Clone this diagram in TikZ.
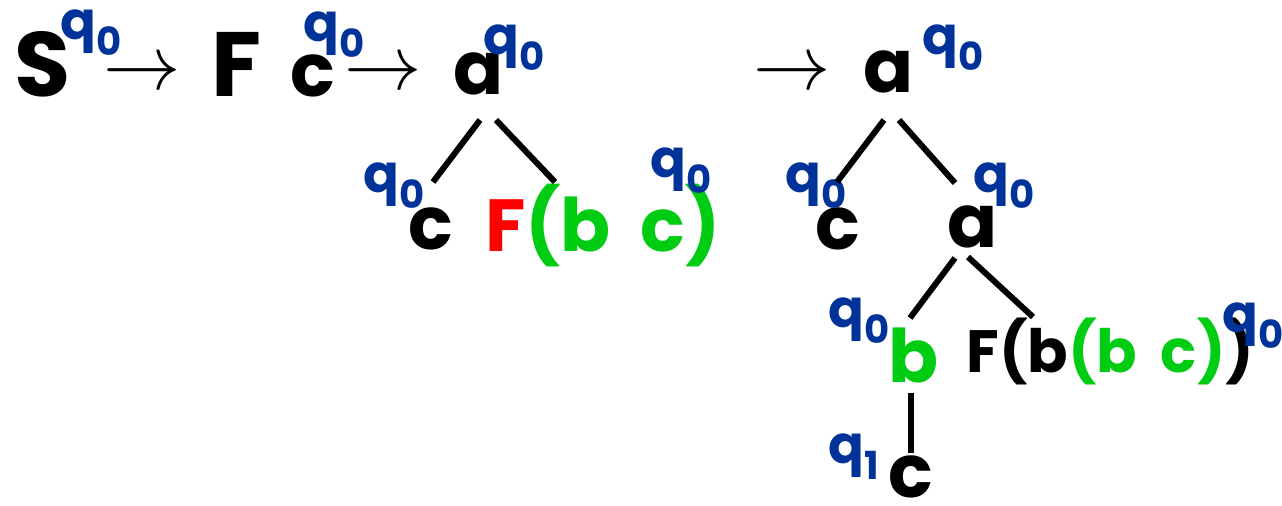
\RequirePackage{fix-cm}
\documentclass[tikz,border=0pt]{standalone}
\usepackage{fontspec}
\setmainfont{Poppins}
\usetikzlibrary{calc}
\definecolor{qblue}{RGB}{0,51,153}
\definecolor{lgreen}{RGB}{0,204,20}
\newcommand{\qlab}[1]{q\raisebox{-9pt}{\fontsize{22}{24}\selectfont #1}}

\begin{document}
\begin{tikzpicture}[x=0.02cm,y=-0.02cm,
    sym/.style={inner sep=0pt,anchor=base west,font=\fontsize{42}{48}\selectfont\bfseries},
    big/.style={sym,font=\fontsize{52}{56}\selectfont\bfseries},
    small/.style={sym,font=\fontsize{34}{40}\selectfont\bfseries},
    lab/.style={inner sep=0pt,anchor=base west,text=qblue,font=\fontsize{30}{34}\selectfont\bfseries},
    arr/.style={inner sep=0pt,font=\fontsize{44}{48}\selectfont},
    edge/.style={line width=3.4pt}]
    \useasboundingbox (0,0) rectangle (1282,506);
    % S => F c => a
    \node[big] (S) at (14,97) {S};
    \node[lab] (qS) at (60,40) {\qlab0};
    \node[arr] (arr1) at (142,75) {$\rightarrow$};
    \node[big] (F0) at (211,97) {F};
    \node[sym] (c0) at (290,97) {c};
    \node[lab] (qc0) at (303,42) {\qlab0};
    \node[arr] (arr2) at (383,75) {$\rightarrow$};
    % first tree
    \node[sym] (a1) at (453,95) {a};
    \node[lab] (qa1) at (483,55) {\qlab0};
    \node[sym] (c1) at (408,250) {c};
    \node[lab] (qc1) at (363,193) {\qlab0};
    \node[sym] (F1) at (485,252) {\textcolor{red}{F}\textcolor{lgreen}{(b\hspace{0.4em}c)}};
    \node[lab] (qF1) at (650,178) {\qlab0};
    \draw[edge] ($(a1.base west)+(27,25)$) -- ($(c1.base west)+(25,-68)$);
    \draw[edge] ($(a1.base west)+(43,25)$) -- ($(F1.base west)+(70,-70)$);
    % second tree
    \node[arr] (arr3) at (792,75) {$\rightarrow$};
    \node[sym] (a2) at (863,93) {a};
    \node[lab] (qa2) at (922,55) {\qlab0};
    \node[sym] (c2) at (815,250) {c};
    \node[lab] (qc2) at (785,193) {\qlab0};
    \node[sym] (a3) at (947,248) {a};
    \node[lab] (qa3) at (973,193) {\qlab0};
    \node[sym, text=lgreen] (b3) at (888,383) {b};
    \node[lab] (qb3) at (828,328) {\qlab0};
    \node[small] (F2) at (966,373) {F(b\textcolor{lgreen}{(b\hspace{0.4em}c)})};
    \node[lab] (qF2) at (1222,333) {\qlab0};
    \node[sym] (c4) at (888,498) {c};
    \node[lab] (qc4) at (828,464) {\qlab1};
    \draw[edge] ($(a2.base west)+(21,27)$) -- ($(c2.base west)+(22,-68)$);
    \draw[edge] ($(a2.base west)+(36,27)$) -- ($(a3.base west)+(8,-65)$);
    \draw[edge] ($(a3.base west)+(8,10)$) -- ($(b3.base west)+(22,-65)$);
    \draw[edge] ($(a3.base west)+(21,9)$) -- ($(F2.base west)+(67,-56)$);
    \draw[edge] ($(b3.base west)+(23,10)$) -- ($(c4.base west)+(23,-45)$);
\end{tikzpicture}
\end{document}
